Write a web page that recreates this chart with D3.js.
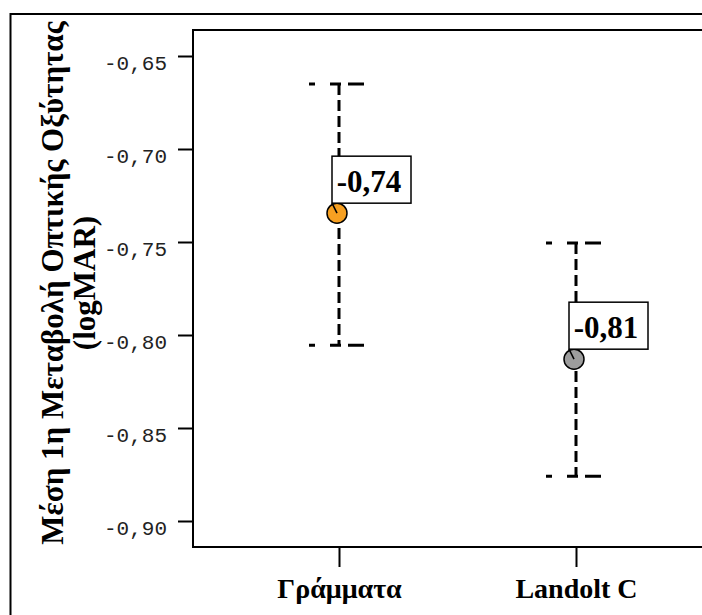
<!DOCTYPE html>
<html>
<head>
<meta charset="utf-8">
<script src="https://cdn.jsdelivr.net/npm/d3@7"></script>
<style>
  body { margin: 0; background: #fff; }
</style>
</head>
<body>
<div id="chart"></div>
<script>
const categories = ["Γράμματα", "Landolt C"];
const means = [-0.7345, -0.813];
const upper = [-0.665, -0.7505];
const lower = [-0.8055, -0.876];
const labels = ["-0,74", "-0,81"];
const colors = ["#f7a021", "#9d9d9d"];
const yTicks = [-0.65, -0.70, -0.75, -0.80, -0.85, -0.90];

const width = 702, height = 615;
const plot = { left: 193, top: 30, right: 720, bottom: 547 };
const serif = "'Liberation Serif', 'Times New Roman', serif";

let svg = d3.select("#chart")
    .append("svg")
    .attr("width", width)
    .attr("height", height);

// outer frame
svg.append("rect")
    .attr("x", 10.5)
    .attr("y", 14)
    .attr("width", 720)
    .attr("height", 640)
    .attr("fill", "none")
    .attr("stroke", "#000")
    .attr("stroke-width", 2);

let y = d3.scaleLinear()
    .domain([-0.65, -0.90])
    .range([56, 521]);

let x = d3.scalePoint()
    .domain(categories)
    .range([339, 576]);

// plot frame
svg.append("path")
    .attr("d", `M${plot.right},${plot.top}H${plot.left}V${plot.bottom}H${plot.right}`)
    .attr("fill", "none")
    .attr("stroke", "#000")
    .attr("stroke-width", 2);

let yAxis = svg.append("g")
    .attr("transform", `translate(${plot.left}, 0)`)
    .call(d3.axisLeft(y)
        .tickValues(yTicks)
        .tickSize(15)
        .tickPadding(11)
        .tickFormat(d => d3.format(".2f")(d).replace("−", "-").replace(".", ",")));
yAxis.select(".domain").remove();
yAxis.selectAll("line").attr("stroke-width", 2);
yAxis.selectAll("text")
    .attr("dy", "0.64em")
    .style("font-family", "'Liberation Mono', 'Courier New', monospace")
    .style("font-size", "21px")
    .attr("fill", "#222");

let xAxis = svg.append("g")
    .attr("transform", `translate(0, ${plot.bottom})`)
    .call(d3.axisBottom(x).tickSize(20).tickPadding(11));
xAxis.select(".domain").remove();
xAxis.selectAll("line").attr("stroke-width", 2);
xAxis.selectAll("text")
    .style("font-family", serif)
    .style("font-size", "28px")
    .style("font-weight", "bold")
    .attr("fill", "#000");

// y title
let title = svg.append("text")
    .attr("transform", `translate(63, 283)rotate(-90)`)
    .style("text-anchor", "middle")
    .style("font-family", serif)
    .style("font-size", "31px")
    .style("font-weight", "bold");
title.append("tspan").attr("x", 0).attr("dy", 0).text("Μέση 1η Μεταβολή Οπτικής Οξύτητας");
title.append("tspan").attr("x", 0).attr("dy", 32).text("(logMAR)");

let data = categories.map((c, i) => ({
    cat: c, mean: means[i], hi: upper[i], lo: lower[i], label: labels[i], color: colors[i]
}));

let bars = svg.append("g").selectAll("g")
    .data(data)
    .enter()
    .append("g");

bars.append("line")
    .attr("x1", d => x(d.cat))
    .attr("x2", d => x(d.cat))
    .attr("y1", d => y(d.hi))
    .attr("y2", d => y(d.lo))
    .attr("stroke", "#000")
    .attr("stroke-width", 3)
    .attr("stroke-dasharray", "11,5");

[d => y(d.hi), d => y(d.lo)].forEach(fy => {
    bars.append("line")
        .attr("x1", d => x(d.cat) - 30)
        .attr("x2", d => x(d.cat) + 25)
        .attr("y1", fy)
        .attr("y2", fy)
        .attr("stroke", "#000")
        .attr("stroke-width", 3)
        .attr("stroke-dasharray", "6,15,11,7,16");
});

bars.append("circle")
    .attr("cx", d => x(d.cat) - 2)
    .attr("cy", d => y(d.mean))
    .attr("r", 10)
    .attr("fill", d => d.color)
    .attr("stroke", "#000")
    .attr("stroke-width", 1.5);

// leader line from label box corner
bars.append("line")
    .attr("x1", d => x(d.cat) - 7)
    .attr("y1", d => y(d.mean) - 10)
    .attr("x2", d => x(d.cat) - 2)
    .attr("y2", d => y(d.mean))
    .attr("stroke", "#000")
    .attr("stroke-width", 1.5);

bars.append("rect")
    .attr("x", d => x(d.cat) - 7)
    .attr("y", d => y(d.mean) - 57)
    .attr("width", 79)
    .attr("height", 47)
    .attr("fill", "#fff")
    .attr("stroke", "#000")
    .attr("stroke-width", 1.5);

bars.append("text")
    .attr("x", d => x(d.cat) + 30)
    .attr("y", d => y(d.mean) - 21)
    .style("text-anchor", "middle")
    .style("font-family", serif)
    .style("font-size", "31px")
    .style("font-weight", "bold")
    .text(d => d.label);
</script>
</body>
</html>
